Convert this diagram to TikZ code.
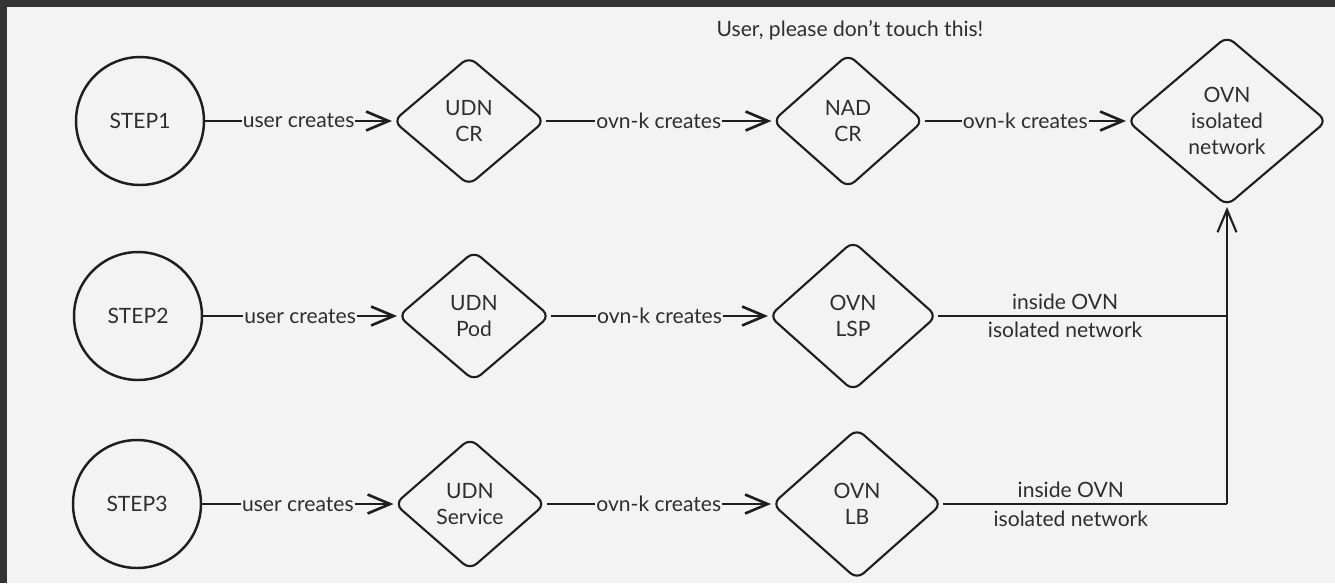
\documentclass[tikz,border=0pt]{standalone}
\usepackage{fontspec}
\setmainfont{Lato}
\usetikzlibrary{shapes.geometric, arrows.meta}
\definecolor{bgcol}{HTML}{F3F3F3}
\definecolor{framecol}{HTML}{333333}
\definecolor{inkcol}{HTML}{1E1E1E}
\definecolor{txtcol}{HTML}{2E2E2E}

\begin{document}
\begin{tikzpicture}[x=0.02cm, y=-0.02cm, every node/.style={font=\fontsize{12}{15}\selectfont, text=txtcol}]
    % Styles
    \tikzstyle{stepnode} = [circle, draw=inkcol, line width=1.4pt, minimum size=2.56cm, inner sep=0pt]
    \tikzstyle{crd} = [diamond, draw=inkcol, line width=1.2pt, rounded corners=5pt, align=center, inner sep=0pt]
    \tikzstyle{arrow} = [-{Straight Barb[length=4.5mm, width=3.8mm]}, line width=1.5pt, draw=inkcol]
    \tikzstyle{edgelabel} = [midway, fill=bgcol, inner sep=0.5pt]
    \tikzstyle{sidelabel} = [inner sep=1pt]

    % Frame
    \fill[framecol] (0,0) rectangle (1335,583);
    \fill[bgcol] (7,7) rectangle (1335,583);

    % Nodes
    \node[stepnode] (S1) at (140,121) {STEP1};
    \node[stepnode] (S2) at (138,316) {STEP2};
    \node[stepnode] (S3) at (137,504) {STEP3};

    \node[crd, minimum width=3.04cm, minimum height=2.58cm] (udncr) at (469,121) {UDN\\CR};
    \node[crd, minimum width=3.02cm, minimum height=2.68cm] (nadcr) at (848,121) {NAD\\CR};
    \node[crd, minimum width=4.0cm, minimum height=3.4cm] (ovn) at (1227,121) {OVN\\isolated\\network};
    \node[crd, minimum width=3.04cm, minimum height=2.6cm] (udnpod) at (474,316) {UDN\\Pod};
    \node[crd, minimum width=3.36cm, minimum height=3.0cm] (lsp) at (853,316) {OVN\\LSP};
    \node[crd, minimum width=3.02cm, minimum height=2.64cm] (udnsvc) at (470,504) {UDN\\Service};
    \node[crd, minimum width=3.4cm, minimum height=3.02cm] (lb) at (857,504) {OVN\\LB};

    \node (note) at (850,30) {User, please don't touch this!};

    \coordinate (j2) at (1227,316);
    \coordinate (j3) at (1227,504);

    % Arrows
    \draw[arrow] (S1) -- node[edgelabel] {user creates} (udncr);
    \draw[arrow] (udncr) -- node[edgelabel] {ovn-k creates} (nadcr);
    \draw[arrow] (nadcr) -- node[edgelabel] {ovn-k creates} (ovn);
    \draw[arrow] (S2) -- node[edgelabel] {user creates} (udnpod);
    \draw[arrow] (udnpod) -- node[edgelabel] {ovn-k creates} (lsp);
    \draw[arrow] (S3) -- node[edgelabel] {user creates} (udnsvc);
    \draw[arrow] (udnsvc) -- node[edgelabel] {ovn-k creates} (lb);

    \draw[line width=1.2pt, draw=inkcol] (lsp) -- node[sidelabel, pos=0.44, above=2pt] {inside OVN} node[sidelabel, pos=0.44, below=2pt] {isolated network} (j2);
    \draw[line width=1.6pt, draw=inkcol] (lb) -- node[sidelabel, pos=0.45, above=2pt] {inside OVN} node[sidelabel, pos=0.45, below=2pt] {isolated network} (j3);
    \draw[arrow, line width=1.2pt] (j3) -- (ovn.south);
\end{tikzpicture}
\end{document}
